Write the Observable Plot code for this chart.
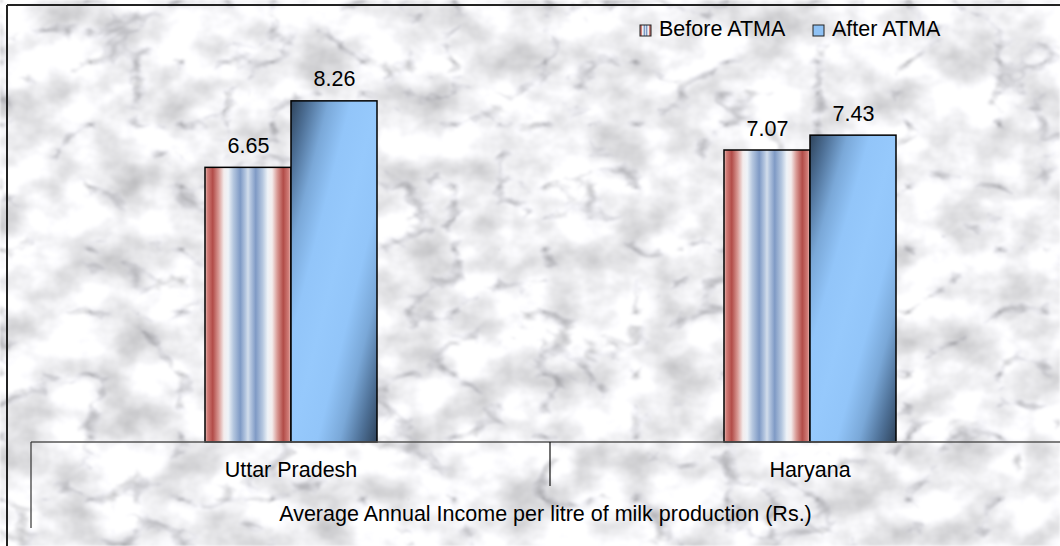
<!DOCTYPE html>
<html>
<head>
<meta charset="utf-8">
<script src="https://cdn.jsdelivr.net/npm/d3@7"></script>
<script src="https://cdn.jsdelivr.net/npm/@observablehq/plot@0.6"></script>
<style>
  html, body { margin: 0; padding: 0; background: #fff; overflow: hidden; }
  #chart { width: 1060px; height: 546px; }
</style>
</head>
<body>
<div id="chart"></div>
<script>
const categories = ["Uttar Pradesh", "Haryana"];
const seriesNames = ["Before ATMA", "After ATMA"];
const beforeValues = [6.65, 7.07];
const afterValues = [8.26, 7.43];
const axisTitle = "Average Annual Income per litre of milk production (Rs.)";

const data = categories.flatMap((c, i) => [
  {state: c, series: seriesNames[0], value: beforeValues[i]},
  {state: c, series: seriesNames[1], value: afterValues[i]}
]);

const FONT = "'Liberation Sans', Arial, sans-serif";
const FS = 21.5;

const chart = Plot.plot({
  width: 1060,
  height: 546,
  marginTop: 29,
  marginBottom: 104,
  marginLeft: 31,
  marginRight: -9,
  style: {background: "transparent", fontFamily: FONT, fontSize: FS + "px", color: "#000", overflow: "visible"},
  fx: {domain: categories, padding: 0, label: null},
  x: {domain: seriesNames, paddingInner: 0, paddingOuter: 1.983, axis: null},
  y: {domain: [0, 10], axis: null},
  marks: [
    Plot.barY(data.filter(d => d.series === seriesNames[0]), {
      fx: "state", x: "series", y: "value", fill: "url(#gBefore)", stroke: "#000", strokeWidth: 1.5
    }),
    Plot.barY(data.filter(d => d.series === seriesNames[1]), {
      fx: "state", x: "series", y: "value", fill: "url(#gAfter)", stroke: "#000", strokeWidth: 1.5
    }),
    Plot.text(data, {
      fx: "state", x: "series", y: "value", text: d => d.value.toFixed(2),
      lineAnchor: "bottom", dy: -15, fontSize: FS, fill: "#000"
    }),
    Plot.axisFx({anchor: "bottom", tickSize: 0, tickPadding: 19, fontSize: FS, label: null})
  ]
});

document.getElementById("chart").appendChild(chart);

const svg = d3.select(chart);
const defs = svg.insert("defs", ":first-child");

// marble filter
const filt = defs.append("filter").attr("id", "marble")
  .attr("filterUnits", "userSpaceOnUse").attr("x", 0).attr("y", 0).attr("width", 1060).attr("height", 546)
  .attr("color-interpolation-filters", "sRGB");
filt.append("feTurbulence").attr("type", "fractalNoise").attr("baseFrequency", "0.02 0.025")
  .attr("numOctaves", 4).attr("seed", 11).attr("result", "n1");
filt.append("feColorMatrix").attr("in", "n1").attr("type", "matrix")
  .attr("values", "0.45 0 0 0 0.72  0.45 0 0 0 0.72  0.45 0 0 0 0.73  0 0 0 0 1").attr("result", "m1");
filt.append("feTurbulence").attr("type", "turbulence").attr("baseFrequency", "0.011 0.016")
  .attr("numOctaves", 4).attr("seed", 7).attr("result", "n2");
filt.append("feColorMatrix").attr("in", "n2").attr("type", "matrix")
  .attr("values", "1.4 0 0 0 0.76  1.4 0 0 0 0.76  1.4 0 0 0 0.77  0 0 0 0 1").attr("result", "m2");
filt.append("feBlend").attr("in", "m1").attr("in2", "m2").attr("mode", "multiply").attr("result", "b");
filt.append("feGaussianBlur").attr("in", "b").attr("stdDeviation", 0.8);

// before gradient (vertical stripes)
const gb = defs.append("linearGradient").attr("id", "gBefore").attr("x1", 0).attr("x2", 1).attr("y1", 0).attr("y2", 0);
[[0, "#ecc2bf"], [0.03, "#d07c77"], [0.09, "#b24c48"], [0.16, "#d99a95"], [0.22, "#f4ecec"], [0.27, "#eef3f8"],
 [0.33, "#b5c7df"], [0.41, "#7f9ac5"], [0.47, "#b3c5df"], [0.5, "#d2ddeb"], [0.53, "#b3c5df"], [0.59, "#7f9ac5"],
 [0.67, "#b5c7df"], [0.73, "#eef3f8"], [0.78, "#f4ecec"], [0.84, "#d99a95"], [0.91, "#b24c48"], [0.97, "#d07c77"], [1, "#ecc2bf"]]
  .forEach(([o, c]) => gb.append("stop").attr("offset", o).attr("stop-color", c));

// after gradient (diagonal, reflected)
const ga = defs.append("linearGradient").attr("id", "gAfter").attr("x1", 0).attr("y1", 0).attr("x2", 1).attr("y2", 1);
[[0, "#2e435b"], [0.1, "#4d6f95"], [0.22, "#7aa8d8"], [0.35, "#92c5f9"], [0.5, "#96c9fc"], [0.65, "#92c5f9"],
 [0.78, "#7aa8d8"], [0.9, "#4d6f95"], [1, "#2e435b"]]
  .forEach(([o, c]) => ga.append("stop").attr("offset", o).attr("stop-color", c));

// background
svg.insert("rect", "defs + *").attr("x", 0).attr("y", 0).attr("width", 1060).attr("height", 546)
  .attr("fill", "#fff").attr("filter", "url(#marble)");

const fx = chart.scale("fx");
const y = chart.scale("y");
const y0 = y.apply(0);
const left = fx.range[0];
const right = 1060;
const mid = fx.apply(categories[1]);
const bottom = 546;

const deco = svg.append("g");
// outer frame (top and left)
deco.append("line").attr("x1", 7).attr("x2", 1060).attr("y1", 5).attr("y2", 5).attr("stroke", "#222").attr("stroke-width", 2);
deco.append("line").attr("x1", 7).attr("x2", 7).attr("y1", 5).attr("y2", bottom).attr("stroke", "#222").attr("stroke-width", 2);
// category axis lines
deco.append("line").attr("x1", left).attr("x2", right).attr("y1", y0).attr("y2", y0).attr("stroke", "#555").attr("stroke-width", 1.5);
deco.append("line").attr("x1", left).attr("x2", left).attr("y1", y0).attr("y2", y0 + 86).attr("stroke", "#333").attr("stroke-width", 1.2);
deco.append("line").attr("x1", mid).attr("x2", mid).attr("y1", y0).attr("y2", y0 + 44).attr("stroke", "#111").attr("stroke-width", 1.2);
// axis title
deco.append("text").attr("x", (left + right) / 2).attr("y", y0 + 79)
  .attr("text-anchor", "middle")
  .attr("font-family", FONT).attr("font-size", FS).attr("fill", "#000").text(axisTitle);

// legend
const legend = deco.append("g").attr("font-family", FONT).attr("font-size", FS).attr("text-anchor", "start");
const legendItems = [
  {name: seriesNames[0], x: 640, fill: "url(#gBefore)"},
  {name: seriesNames[1], x: 813, fill: "#8fc2f5"}
];
legendItems.forEach(it => {
  legend.append("rect").attr("x", it.x).attr("y", 25).attr("width", 11).attr("height", 11)
    .attr("fill", it.fill).attr("stroke", "#222").attr("stroke-width", 1);
  legend.append("text").attr("x", it.x + 19).attr("y", 36).attr("text-anchor", "start")
    .attr("fill", "#000").text(it.name);
});
</script>
</body>
</html>
